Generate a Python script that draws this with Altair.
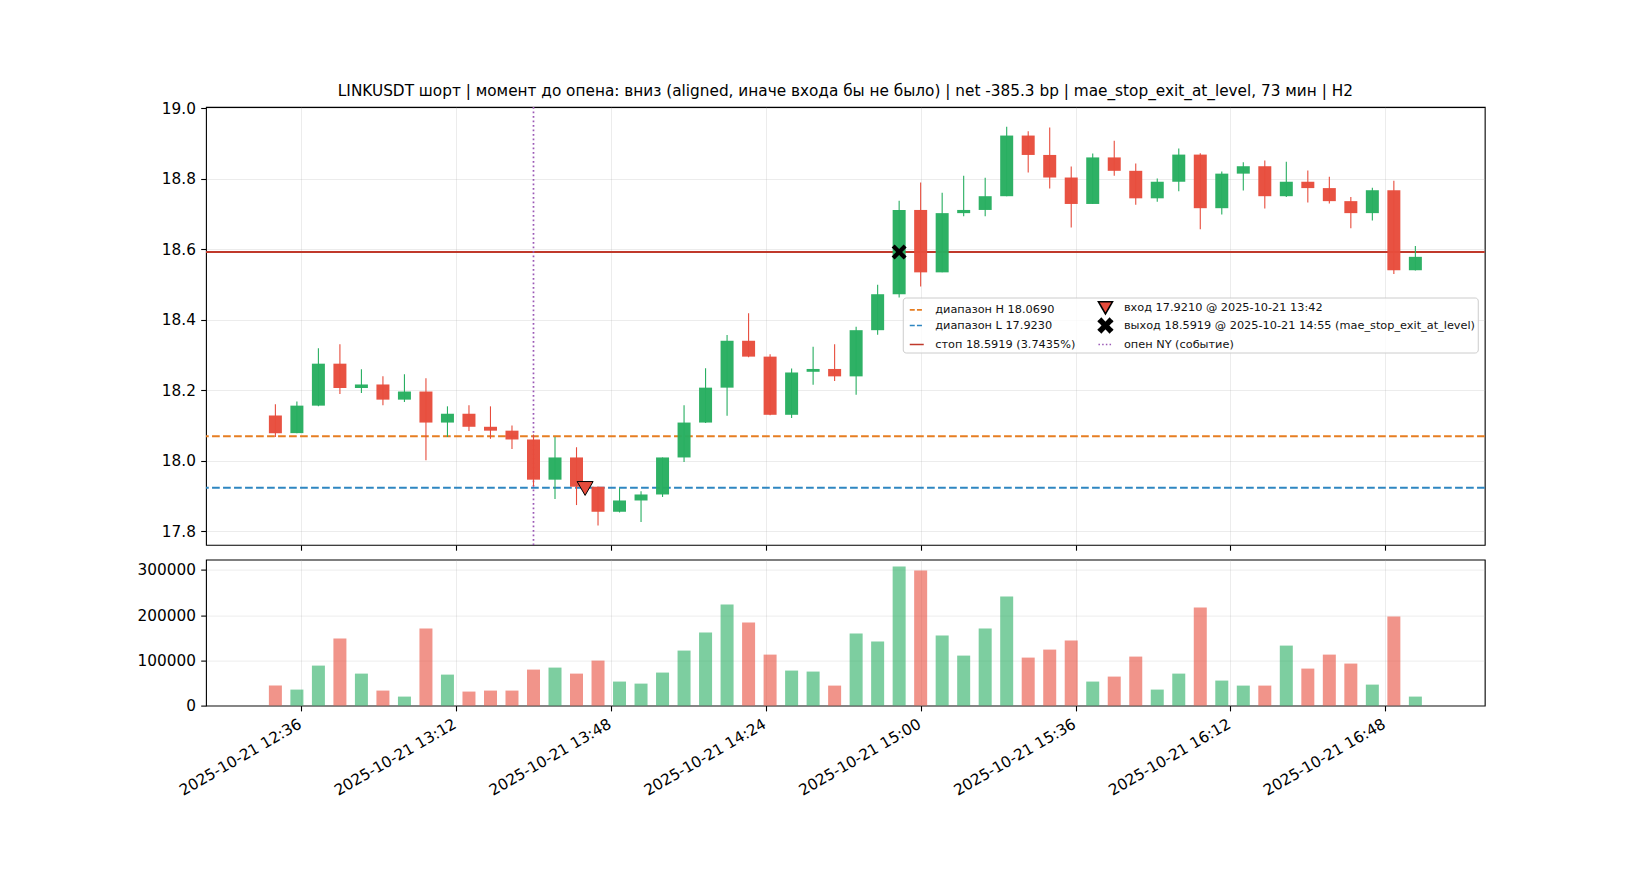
import altair as alt
import pandas as pd

# ---------------- data ----------------
times = [
    "2025-10-21T12:30:00", "2025-10-21T12:35:00", "2025-10-21T12:40:00", "2025-10-21T12:45:00",
    "2025-10-21T12:50:00", "2025-10-21T12:55:00", "2025-10-21T13:00:00", "2025-10-21T13:05:00",
    "2025-10-21T13:10:00", "2025-10-21T13:15:00", "2025-10-21T13:20:00", "2025-10-21T13:25:00",
    "2025-10-21T13:30:00", "2025-10-21T13:35:00", "2025-10-21T13:40:00", "2025-10-21T13:45:00",
    "2025-10-21T13:50:00", "2025-10-21T13:55:00", "2025-10-21T14:00:00", "2025-10-21T14:05:00",
    "2025-10-21T14:10:00", "2025-10-21T14:15:00", "2025-10-21T14:20:00", "2025-10-21T14:25:00",
    "2025-10-21T14:30:00", "2025-10-21T14:35:00", "2025-10-21T14:40:00", "2025-10-21T14:45:00",
    "2025-10-21T14:50:00", "2025-10-21T14:55:00", "2025-10-21T15:00:00", "2025-10-21T15:05:00",
    "2025-10-21T15:10:00", "2025-10-21T15:15:00", "2025-10-21T15:20:00", "2025-10-21T15:25:00",
    "2025-10-21T15:30:00", "2025-10-21T15:35:00", "2025-10-21T15:40:00", "2025-10-21T15:45:00",
    "2025-10-21T15:50:00", "2025-10-21T15:55:00", "2025-10-21T16:00:00", "2025-10-21T16:05:00",
    "2025-10-21T16:10:00", "2025-10-21T16:15:00", "2025-10-21T16:20:00", "2025-10-21T16:25:00",
    "2025-10-21T16:30:00", "2025-10-21T16:35:00", "2025-10-21T16:40:00", "2025-10-21T16:45:00",
    "2025-10-21T16:50:00", "2025-10-21T16:55:00",
]
opens = [18.128, 18.078, 18.156, 18.275, 18.206, 18.216, 18.173, 18.196, 18.108, 18.133,
         18.096, 18.085, 18.060, 17.946, 18.009, 17.926, 17.855, 17.887, 17.904, 18.009,
         18.108, 18.207, 18.340, 18.295, 18.130, 18.252, 18.260, 18.239, 18.370, 18.472,
         18.711, 18.534, 18.702, 18.711, 18.750, 18.922, 18.867, 18.803, 18.728, 18.860,
         18.822, 18.744, 18.791, 18.868, 18.716, 18.814, 18.835, 18.750, 18.791, 18.773,
         18.736, 18.702, 18.767, 18.540]
highs = [18.160, 18.168, 18.319, 18.330, 18.259, 18.239, 18.245, 18.234, 18.154, 18.157,
         18.154, 18.100, 18.074, 18.067, 18.038, 17.926, 17.922, 17.913, 18.009, 18.157,
         18.262, 18.356, 18.418, 18.302, 18.261, 18.323, 18.330, 18.380, 18.499, 18.737,
         18.789, 18.760, 18.808, 18.802, 18.947, 18.934, 18.945, 18.834, 18.871, 18.907,
         18.843, 18.800, 18.885, 18.872, 18.820, 18.846, 18.851, 18.848, 18.823, 18.805,
         18.748, 18.774, 18.794, 18.609]
lows = [18.067, 18.078, 18.154, 18.189, 18.192, 18.157, 18.166, 18.001, 18.067, 18.084,
        18.062, 18.033, 17.927, 17.891, 17.874, 17.816, 17.853, 17.826, 17.897, 17.996,
        18.107, 18.127, 18.293, 18.129, 18.121, 18.215, 18.226, 18.187, 18.357, 18.463,
        18.494, 18.534, 18.693, 18.693, 18.750, 18.817, 18.772, 18.661, 18.728, 18.808,
        18.726, 18.734, 18.764, 18.656, 18.698, 18.766, 18.715, 18.748, 18.732, 18.729,
        18.659, 18.681, 18.529, 18.539]
closes = [18.078, 18.156, 18.275, 18.206, 18.216, 18.173, 18.196, 18.108, 18.133, 18.096,
          18.085, 18.060, 17.946, 18.009, 17.926, 17.855, 17.887, 17.904, 18.009, 18.108,
          18.207, 18.340, 18.295, 18.130, 18.250, 18.260, 18.239, 18.370, 18.472, 18.711,
          18.534, 18.702, 18.711, 18.750, 18.922, 18.867, 18.803, 18.728, 18.860, 18.822,
          18.744, 18.791, 18.868, 18.716, 18.814, 18.835, 18.750, 18.791, 18.773, 18.736,
          18.702, 18.767, 18.540, 18.578]
volumes = [44200, 35400, 88400, 148100, 70700, 33200, 19900, 170200, 68500, 31000,
           33200, 33200, 79600, 84000, 70700, 99500, 53100, 48600, 73000, 121600,
           161400, 223300, 183500, 112700, 77400, 75200, 44200, 159200, 141500, 307300,
           298400, 154800, 110500, 170200, 241000, 106100, 123800, 143700, 53100, 64100,
           108300, 35400, 70700, 216700, 55300, 44200, 44200, 132600, 81800, 112700,
           92900, 46400, 196800, 19900]

range_high = [18.0690]
range_low = [17.9230]
stop_level = [18.5919]
entry_time = ["2025-10-21T13:42:00"]
entry_price = [17.9210]
exit_time = ["2025-10-21T14:55:00"]
exit_price = [18.5919]
ny_open_time = ["2025-10-21T13:30:00"]

tick_hm = [(12, 36), (13, 12), (13, 48), (14, 24), (15, 0), (15, 36), (16, 12), (16, 48)]
price_ticks = [17.8, 18.0, 18.2, 18.4, 18.6, 18.8, 19.0]
volume_ticks = [0, 100000, 200000, 300000]

title_text = ("LINKUSDT шорт | момент до опена: вниз (aligned, иначе входа бы не было) | "
              "net -385.3 bp | mae_stop_exit_at_level, 73 мин | H2")

# legend entries (Vega fills legend columns top-to-bottom)
legend_order = [
    "диапазон H 18.0690",
    "диапазон L 17.9230",
    "стоп 18.5919 (3.7435%)",
    "вход 17.9210 @ 2025-10-21 13:42",
    "выход 18.5919 @ 2025-10-21 14:55 (mae_stop_exit_at_level)",
    "опен NY (событие)",
]

# ---------------- styles ----------------
GREEN = "#27ae60"
RED = "#e74c3c"
ORANGE = "#e67e22"
BLUE = "#2e86c1"
STOP = "#c0392b"
PURPLE = "#9b59b6"
X_PATH = "M0,-0.4L0.6,-1L1,-0.6L0.4,0L1,0.6L0.6,1L0,0.4L-0.6,1L-1,0.6L-0.4,0L-1,-0.6L-0.6,-1Z"
FONT = "DejaVu Sans"
TICK_FS = 15.3
W = 1278.75

candles = pd.DataFrame({
    "t": times, "open": opens, "high": highs, "low": lows, "close": closes, "volume": volumes,
})
candles["dir"] = ["up" if c >= o else "down" for o, c in zip(opens, closes)]

dir_scale = alt.Scale(domain=["up", "down"], range=[GREEN, RED])


def dt(h, m, s=0):
    return alt.DateTime(year=2025, month=10, date=21, hours=h, minutes=m, seconds=s)


xscale = alt.Scale(domain=[dt(12, 15, 2), dt(17, 9, 58)])
tick_vals = [dt(h, m) for h, m in tick_hm]
yscale = alt.Scale(domain=[17.761, 19.003], nice=False, zero=False)

x_top = alt.X("t:T", scale=xscale,
              axis=alt.Axis(values=tick_vals, labels=False, title=None, grid=True))
y_price_axis = alt.Axis(values=price_ticks, format=".1f", title=None, grid=True)

hh = alt.Chart(pd.DataFrame({"y": range_high})).mark_rule(
    color=ORANGE, strokeWidth=2, strokeDash=[7.7, 3.3]).encode(
    y=alt.Y("y:Q", scale=yscale, axis=y_price_axis))
ll = alt.Chart(pd.DataFrame({"y": range_low})).mark_rule(
    color=BLUE, strokeWidth=2, strokeDash=[7.7, 3.3]).encode(y=alt.Y("y:Q", scale=yscale))
st = alt.Chart(pd.DataFrame({"y": stop_level})).mark_rule(
    color=STOP, strokeWidth=2).encode(y=alt.Y("y:Q", scale=yscale))
ny = alt.Chart(pd.DataFrame({"t": ny_open_time})).mark_rule(
    color=PURPLE, strokeWidth=1.7, strokeDash=[1.7, 2.8]).encode(x=x_top)

wicks = alt.Chart(candles).mark_rule(strokeWidth=1.1).encode(
    x=x_top,
    y=alt.Y("low:Q", scale=yscale),
    y2="high:Q",
    color=alt.Color("dir:N", scale=dir_scale, legend=None),
)
bodies = alt.Chart(candles).mark_bar(size=13, opacity=0.97).encode(
    x=x_top,
    y=alt.Y("open:Q", scale=yscale),
    y2="close:Q",
    color=alt.Color("dir:N", scale=dir_scale, legend=None),
)
entry = alt.Chart(pd.DataFrame({"t": entry_time, "p": entry_price})).mark_point(
    shape="triangle-down", filled=True, size=256, fill=RED, stroke="black",
    strokeWidth=1, opacity=1).encode(x=x_top, y=alt.Y("p:Q", scale=yscale))
exit_ = alt.Chart(pd.DataFrame({"t": exit_time, "p": exit_price})).mark_point(
    shape=X_PATH, filled=True, size=225, color="black", opacity=1).encode(
    x=x_top, y=alt.Y("p:Q", scale=yscale))

leg_dom = legend_order
legend_layer = alt.Chart(pd.DataFrame({"label": legend_order})).mark_point(
    filled=True, opacity=1, clip=True, size=196).encode(
    x=alt.value(-300), y=alt.value(-300),
    fill=alt.Fill("label:N", scale=alt.Scale(
        domain=leg_dom, range=[ORANGE, BLUE, STOP, RED, "black", PURPLE]),
        legend=alt.Legend(
            title=None, orient="none", legendX=696.75, legendY=190.5, columns=2,
            columnPadding=17.7, rowPadding=-5, labelFont=FONT, labelFontSize=11.3,
            labelColor="#111111", labelLimit=600, labelOffset=10.5, symbolSize=196,
            symbolOffset=4, symbolStrokeWidth=1.6, padding=2, fillColor="rgba(255,255,255,0.8)",
            strokeColor="#cccccc", cornerRadius=3)),
    stroke=alt.Stroke("label:N", scale=alt.Scale(
        domain=leg_dom, range=[ORANGE, BLUE, STOP, "black", "black", PURPLE])),
    shape=alt.Shape("label:N", scale=alt.Scale(
        domain=leg_dom, range=["stroke", "stroke", "stroke", "triangle-down", X_PATH, "stroke"])),
    strokeDash=alt.StrokeDash("label:N", scale=alt.Scale(
        domain=leg_dom, range=[[5, 2.2], [5, 2.2], [1, 0], [1, 0], [1, 0], [1.5, 2.2]])),
)

price = alt.layer(hh, ll, st, ny, wicks, bodies, entry, exit_, legend_layer).properties(
    width=W, height=437.9,
    title=alt.TitleParams(text=title_text, font=FONT, fontSize=15.3, fontWeight="normal",
                          color="black", anchor="middle", frame="group", baseline="bottom",
                          offset=-13),
)

vol = alt.Chart(candles).mark_bar(size=13, opacity=0.6).encode(
    x=alt.X("t:T", scale=xscale,
            axis=alt.Axis(values=tick_vals, format="%Y-%m-%d %H:%M", formatType="time",
                          labelAngle=330, labelAlign="right", labelBaseline="top",
                          labelOffset=-5, title=None, grid=True)),
    y=alt.Y("volume:Q", scale=alt.Scale(domain=[0, 322660], nice=False),
            axis=alt.Axis(values=volume_ticks, format="d", title=None, grid=True)),
    color=alt.Color("dir:N", scale=dir_scale, legend=None),
).properties(width=W, height=146)

chart = alt.vconcat(price, vol, spacing=14.6, bounds="flush").properties(
    padding={"left": 128, "top": 75, "right": 10, "bottom": 10},
    background="white",
).configure(font=FONT).configure_axis(
    labelFont=FONT, labelFontSize=TICK_FS, labelColor="black", tickColor="black",
    tickSize=5.3, tickWidth=1.1, labelPadding=5.3, domain=False,
    gridColor="#b0b0b0", gridOpacity=0.3, gridWidth=0.8,
).configure_view(stroke="black", strokeWidth=1.1)

chart.save("out.html", embed_options={"renderer": "svg", "actions": False})
